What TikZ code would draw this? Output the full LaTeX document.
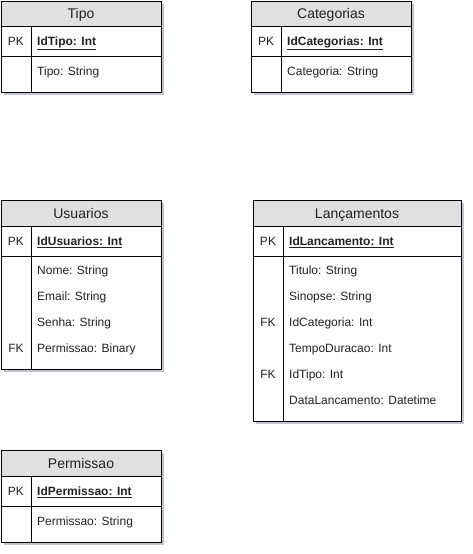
\documentclass[tikz,border=0pt]{standalone}
\usepackage{fontspec}
\setmainfont{Liberation Sans}
\definecolor{hdrgray}{HTML}{E0E0E0}
\definecolor{shadowgray}{HTML}{A7AAB6}
\definecolor{txtgray}{HTML}{222222}
\tikzset{
  tbl/.style={draw=black, line width=1pt, fill=white},
  tblhead/.style={draw=black, line width=1pt, fill=hdrgray},
  tblline/.style={draw=black, line width=1pt},
  tblshadow/.style={fill=shadowgray, opacity=0.7},
  title/.style={font=\fontsize{14}{16}\selectfont, text=txtgray, inner sep=0pt, anchor=base, yshift=-5pt},
  key/.style={font=\fontsize{12}{14}\selectfont, text=txtgray, inner sep=0pt, anchor=base, yshift=-4.3pt},
  field/.style={key, anchor=base west},
}
\begin{document}
\begin{tikzpicture}[x=1pt,y=-1pt]
        \useasboundingbox (0,0) rectangle (472,554);
        % Tipo
        \fill[tblshadow] (4,4) rectangle (164,95);
        \draw[tbl] (1,26) rectangle (161,92);
        \draw[tblhead] (1,1) rectangle (161,26);
        \draw[tblline] (1,56) -- (161,56) (31,26) -- (31,92);
        \node[title] (tipo) at (81,13.5) {Tipo};
        \node[key] (tipopk) at (16,41) {PK};
        \node[field] (tipoid) at (37,41) {\textbf{\underline{IdTipo: Int}}};
        \node[field] (tiponome) at (37,71) {Tipo: String};
        % Categorias
        \fill[tblshadow] (254,4) rectangle (414,95);
        \draw[tbl] (251,26) rectangle (411,92);
        \draw[tblhead] (251,1) rectangle (411,26);
        \draw[tblline] (251,56) -- (411,56) (281,26) -- (281,92);
        \node[title] (categorias) at (331,13.5) {Categorias};
        \node[key] (catpk) at (266,41) {PK};
        \node[field] (catid) at (287,41) {\textbf{\underline{IdCategorias: Int}}};
        \node[field] (catnome) at (287,71) {Categoria: String};
        % Usuarios
        \fill[tblshadow] (4,203) rectangle (164,372);
        \draw[tbl] (1,226) rectangle (161,369);
        \draw[tblhead] (1,200) rectangle (161,226);
        \draw[tblline] (1,256) -- (161,256) (31,226) -- (31,369);
        \node[title] (usuarios) at (81,213) {Usuarios};
        \node[key] (usupk) at (16,241) {PK};
        \node[field] (usuid) at (37,241) {\textbf{\underline{IdUsuarios: Int}}};
        \node[field] (usunome) at (37,270) {Nome: String};
        \node[field] (usuemail) at (37,296) {Email: String};
        \node[field] (ususenha) at (37,322) {Senha: String};
        \node[key] (usufk) at (16,348) {FK};
        \node[field] (usuperm) at (37,348) {Permissao: Binary};
        % Lancamentos
        \fill[tblshadow] (256,203) rectangle (464,424);
        \draw[tbl] (253,226) rectangle (461,421);
        \draw[tblhead] (253,200) rectangle (461,226);
        \draw[tblline] (253,256) -- (461,256) (283,226) -- (283,421);
        \node[title] (lancamentos) at (357,213) {Lançamentos};
        \node[key] (lanpk) at (268,241) {PK};
        \node[field] (lanid) at (289,241) {\textbf{\underline{IdLancamento: Int}}};
        \node[field] (lantitulo) at (289,270) {Titulo: String};
        \node[field] (lansinopse) at (289,296) {Sinopse: String};
        \node[key] (lanfkcat) at (268,322) {FK};
        \node[field] (lancat) at (289,322) {IdCategoria: Int};
        \node[field] (lantempo) at (289,348) {TempoDuracao: Int};
        \node[key] (lanfktipo) at (268,374) {FK};
        \node[field] (lantipo) at (289,374) {IdTipo: Int};
        \node[field] (landata) at (289,400) {DataLancamento: Datetime};
        % Permissao
        \fill[tblshadow] (4,453) rectangle (164,545);
        \draw[tbl] (1,476) rectangle (161,542);
        \draw[tblhead] (1,450) rectangle (161,476);
        \draw[tblline] (1,506) -- (161,506) (31,476) -- (31,542);
        \node[title] (permissao) at (81,463) {Permissao};
        \node[key] (permpk) at (16,491) {PK};
        \node[field] (permid) at (37,491) {\textbf{\underline{IdPermissao: Int}}};
        \node[field] (permnome) at (37,521) {Permissao: String};
\end{tikzpicture}
\end{document}
